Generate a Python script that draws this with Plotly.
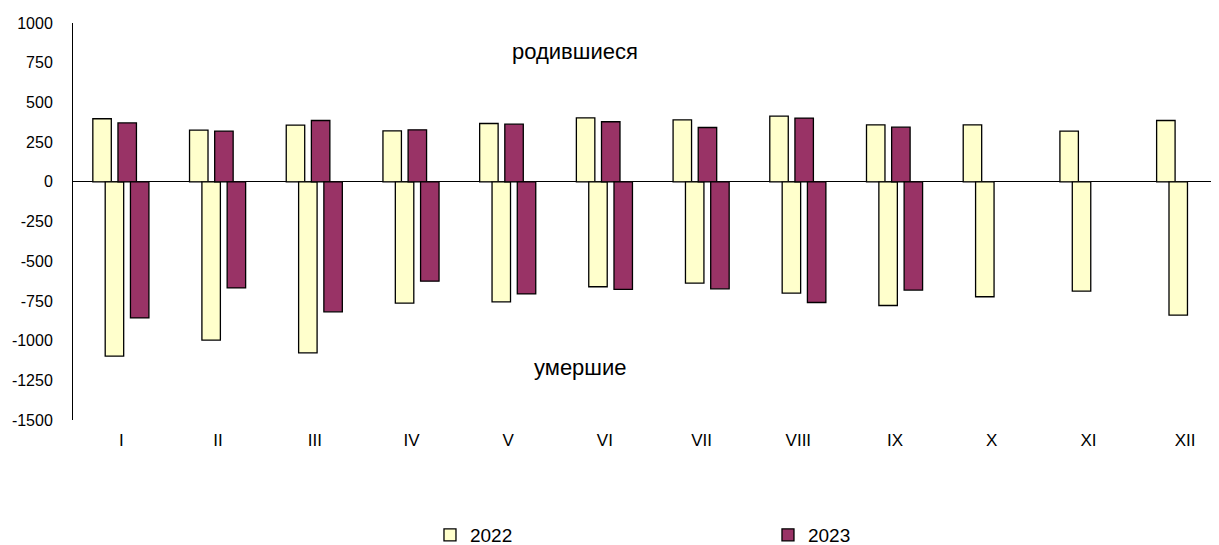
import plotly.graph_objects as go

months = ["I", "II", "III", "IV", "V", "VI", "VII", "VIII", "IX", "X", "XI", "XII"]
births_2022 = [397, 325, 357, 321, 367, 403, 390, 413, 359, 359, 319, 386]
deaths_2022 = [-1098, -997, -1077, -764, -756, -661, -638, -701, -779, -724, -689, -840]
births_2023 = [371, 319, 386, 327, 363, 378, 342, 401, 344, None, None, None]
deaths_2023 = [-857, -668, -819, -626, -706, -678, -674, -760, -682, None, None, None]
y_ticks = [1000, 750, 500, 250, 0, -250, -500, -750, -1000, -1250, -1500]
y_tick_text = [str(v) for v in y_ticks]

C2022 = "#FFFFCC"
C2023 = "#993366"
FONT = "Liberation Sans, Arial, sans-serif"

x = list(range(len(months)))
W = 0.191

fig = go.Figure()
specs = [
    (births_2022, C2022, "2022", -0.295, True),
    (deaths_2022, C2022, "2022", -0.167, False),
    (births_2023, C2023, "2023", -0.035, True),
    (deaths_2023, C2023, "2023", 0.094, False),
]
for vals, col, name, off, show in specs:
    fig.add_trace(go.Bar(
        x=x, y=vals, width=W, offset=off, name=name,
        legendgroup=name, showlegend=show,
        marker=dict(color=col, line=dict(color="black", width=1.3)),
    ))

fig.add_annotation(x=4.695, y=820, text="родившиеся", showarrow=False,
                   font=dict(family=FONT, size=22, color="black"))
fig.add_annotation(x=4.747, y=-1169, text="умершие", showarrow=False,
                   font=dict(family=FONT, size=22, color="black"))

fig.update_layout(
    width=1211, height=537,
    margin=dict(l=65, r=0, t=15, b=125, pad=0, autoexpand=False),
    paper_bgcolor="white", plot_bgcolor="white",
    barmode="overlay",
    font=dict(family=FONT, size=17, color="black"),
    showlegend=True,
    legend=dict(orientation="h", x=0.3115, xanchor="left", y=-0.2897, yanchor="middle",
                entrywidth=293, entrywidthmode="pixels", itemwidth=30,
                font=dict(size=19, family=FONT), traceorder="normal"),
    xaxis=dict(range=[-0.5, 11.35], tickvals=x, ticktext=months, showgrid=False,
               zeroline=False, showline=False, ticks="", ticklabelstandoff=8,
               automargin=False, tickfont=dict(size=17)),
    yaxis=dict(range=[-1500, 1000], tickvals=y_ticks, ticktext=y_tick_text,
               showgrid=False, zeroline=True, zerolinecolor="black", zerolinewidth=1,
               showline=True, linecolor="black", linewidth=1, ticks="",
               ticklabelstandoff=16, automargin=False, tickfont=dict(size=16)),
)

fig.write_html("out.html")
